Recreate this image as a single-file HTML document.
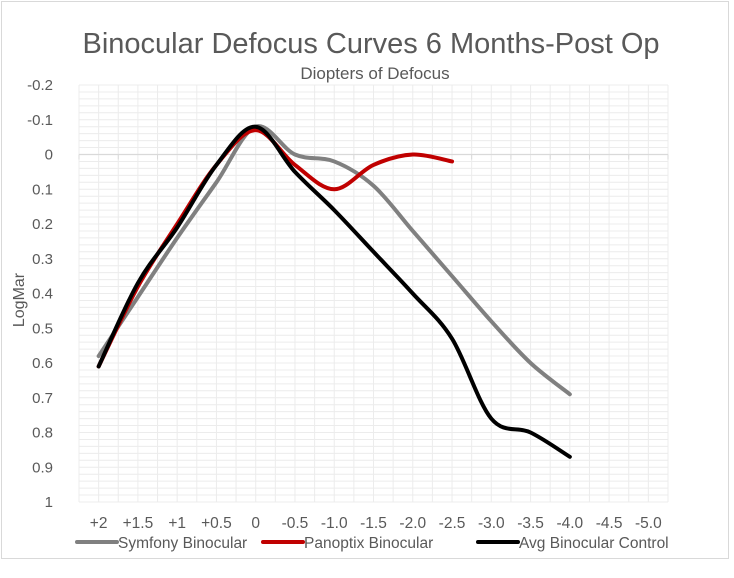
<!DOCTYPE html>
<html><head><meta charset="utf-8"><style>
body{margin:0;background:#fff;font-family:"Liberation Sans",sans-serif}
svg text{font-family:"Liberation Sans",sans-serif;fill:#595959}
</style></head><body>
<svg id="chart" width="734" height="573" viewBox="0 0 734 573">
<rect x="1.5" y="1.5" width="727" height="557" fill="#fff" stroke="#d9d9d9"/>
<text x="371" y="53" font-size="29" text-anchor="middle">Binocular Defocus Curves 6 Months-Post Op</text>
<text x="375" y="79" font-size="17" text-anchor="middle">Diopters of Defocus</text>
<text transform="translate(24,300) rotate(-90)" font-size="16" text-anchor="middle">LogMar</text>
<g id="grid"></g><g id="axes"></g><g id="series"></g><g id="legend"></g>
</svg>
<script>
const categories=["+2","+1.5","+1","+0.5","0","-0.5","-1.0","-1.5","-2.0","-2.5","-3.0","-3.5","-4.0","-4.5","-5.0"];
const symfony=[0.58,0.41,0.24,0.08,-0.08,0.0,0.02,0.09,0.22,0.35,0.48,0.60,0.69];
const panoptix=[0.61,0.38,0.20,0.03,-0.07,0.03,0.10,0.03,0.0,0.02];
const control=[0.61,0.37,0.21,0.03,-0.08,0.05,0.16,0.28,0.40,0.53,0.76,0.80,0.87];
const yTicks=["-0.2","-0.1","0","0.1","0.2","0.3","0.4","0.5","0.6","0.7","0.8","0.9","1"];
const seriesNames=["Symfony Binocular","Panoptix Binocular","Avg Binocular Control"];
const L=79,R=668,T=85,B=502,yMin=-0.2,yMax=1;
const band=(R-L)/categories.length;
const xs=i=>L+band*(i+0.5);
const ys=v=>T+(v-yMin)/(yMax-yMin)*(B-T);
const NS="http://www.w3.org/2000/svg";
function mk(tag,attrs,parent){const e=document.createElementNS(NS,tag);for(const k in attrs)e.setAttribute(k,attrs[k]);parent.appendChild(e);return e;}
const grid=document.getElementById('grid'),axes=document.getElementById('axes');
for(let v=yMin;v<=yMax+1e-9;v+=0.02){const l=mk('line',{x1:L,x2:R,y1:ys(v),y2:ys(v),stroke:'#ececec','stroke-width':1},grid);

}
for(let k=0;k<=categories.length*2;k++){const x=L+band*k/2;const l=mk('line',{x1:x,x2:x,y1:T,y2:B,stroke:'#ececec','stroke-width':1},grid);

}
const ax=mk('line',{x1:L,x2:R,y1:ys(0),y2:ys(0),stroke:'#d9d9d9','stroke-width':1.2},axes);


for(let k=0;k<=categories.length;k++){const x=L+band*k;const t=mk('line',{x1:x,x2:x,y1:ys(0),y2:ys(0)+5,stroke:'#d9d9d9'},axes);

}
yTicks.forEach(s=>{const t=mk('text',{x:53,y:ys(parseFloat(s))+5,'font-size':15,'text-anchor':'end'},axes);t.textContent=s;

});
categories.forEach((c,i)=>{const t=mk('text',{x:xs(i),y:528,'font-size':15.5,'text-anchor':'middle'},axes);t.textContent=c;

});
function smooth(vals){const p=vals.map((v,i)=>[xs(i),ys(v)]);let d=`M${p[0][0]},${p[0][1]}`;
for(let i=0;i<p.length-1;i++){const p0=p[i-1]||p[i],p1=p[i],p2=p[i+1],p3=p[i+2]||p2;
const c1=[p1[0]+(p2[0]-p0[0])/6,p1[1]+(p2[1]-p0[1])/6],c2=[p2[0]-(p3[0]-p1[0])/6,p2[1]-(p3[1]-p1[1])/6];
d+=` C${c1[0]},${c1[1]} ${c2[0]},${c2[1]} ${p2[0]},${p2[1]}`;}return d;}
const sg=document.getElementById('series');
const cols=["#808080","#c00000","#000000"];
const names=["series-symfony","series-panoptix","series-control"];
[symfony,panoptix,control].forEach((s,j)=>{const p=mk('path',{d:smooth(s),fill:'none',stroke:cols[j],'stroke-width':4,'stroke-linecap':'round','stroke-linejoin':'round'},sg);

});
const lg=document.getElementById('legend');const lx=[77,263,478];
seriesNames.forEach((n,j)=>{const g=mk('g',{},lg);


mk('line',{x1:lx[j],x2:lx[j]+40,y1:542,y2:542,stroke:cols[j],'stroke-width':4,'stroke-linecap':'round'},g);
const t=mk('text',{x:lx[j]+41,y:548,'font-size':15.5},g);t.textContent=n;});
</script>
</body></html>
